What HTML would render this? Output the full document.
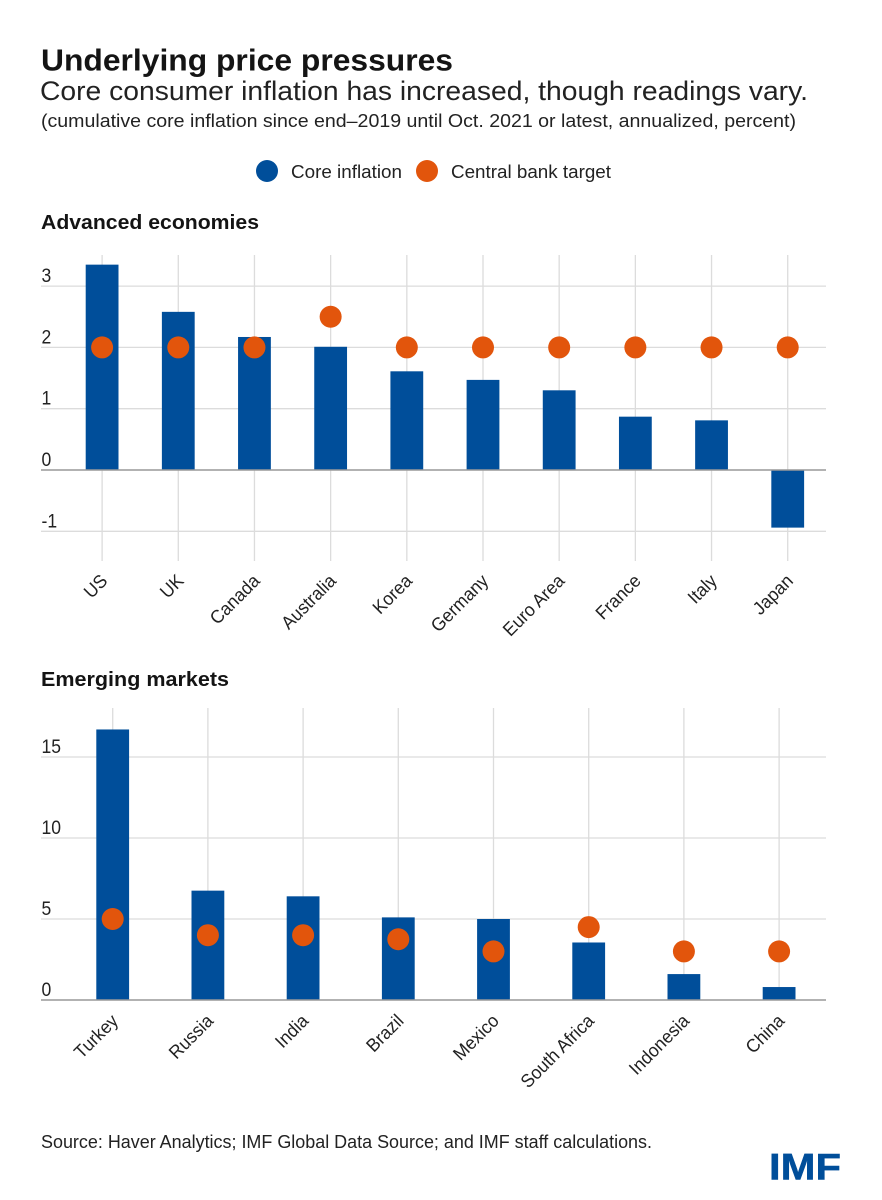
<!DOCTYPE html>
<html>
<head>
<meta charset="utf-8">
<style>
html,body{margin:0;padding:0;background:#fff;}
body{width:882px;height:1200px;overflow:hidden;position:relative;}
svg{position:absolute;left:0;top:0;font-family:"Liberation Sans",sans-serif;}
</style>
</head>
<body>
<svg id="chart" width="882" height="1200" viewBox="0 0 882 1200">
<text x="41" y="70.5" font-size="31" font-weight="700" fill="#141414" textLength="412" lengthAdjust="spacingAndGlyphs">Underlying price pressures</text>
<text x="40" y="100" font-size="26.5" fill="#222" textLength="768" lengthAdjust="spacingAndGlyphs">Core consumer inflation has increased, though readings vary.</text>
<text x="41" y="127" font-size="18.5" fill="#222" textLength="755" lengthAdjust="spacingAndGlyphs">(cumulative core inflation since end–2019 until Oct. 2021 or latest, annualized, percent)</text>
<circle cx="267" cy="171" r="11" fill="#004E9A"/>
<text x="291" y="178" font-size="18.5" fill="#222" textLength="111" lengthAdjust="spacingAndGlyphs">Core inflation</text>
<circle cx="427" cy="171" r="11" fill="#E2550C"/>
<text x="451" y="178" font-size="18.5" fill="#222" textLength="160" lengthAdjust="spacingAndGlyphs">Central bank target</text>
<text x="41" y="229" font-size="20.5" font-weight="700" fill="#141414" textLength="218" lengthAdjust="spacingAndGlyphs">Advanced economies</text>
<text x="41" y="686" font-size="20.5" font-weight="700" fill="#141414" textLength="188" lengthAdjust="spacingAndGlyphs">Emerging markets</text>
<g id="panel-advanced"></g>
<g id="panel-emerging"></g>
<text x="41" y="1148" font-size="18" fill="#222" textLength="611" lengthAdjust="spacingAndGlyphs">Source: Haver Analytics; IMF Global Data Source; and IMF staff calculations.</text>
<text x="769" y="1179.5" font-size="37.5" font-weight="700" fill="#004E9A" stroke="#004E9A" stroke-width="0.5" textLength="72" lengthAdjust="spacingAndGlyphs">IMF</text>
</svg>
<script>
var advCategories = ["US","UK","Canada","Australia","Korea","Germany","Euro Area","France","Italy","Japan"];
var advCore = [3.35,2.58,2.17,2.01,1.61,1.47,1.3,0.87,0.81,-0.94];
var advTarget = [2,2,2,2.5,2,2,2,2,2,2];
var advTicks = [-1,0,1,2,3];
var advTickLabels = ["-1","0","1","2","3"];
var emCategories = ["Turkey","Russia","India","Brazil","Mexico","South Africa","Indonesia","China"];
var emCore = [16.7,6.75,6.4,5.1,5.0,3.55,1.6,0.8];
var emTarget = [5,4,4,3.75,3,4.5,3,3];
var emTicks = [0,5,10,15];
var emTickLabels = ["0","5","10","15"];

var NS = "http://www.w3.org/2000/svg";
function mk(parent, tag, attrs){
  var el = document.createElementNS(NS, tag);
  for (var k in attrs) el.setAttribute(k, attrs[k]);
  parent.appendChild(el);
  return el;
}
function squeeze(t, ratio){
  t.setAttribute('textLength', t.getComputedTextLength() * ratio);
  t.setAttribute('lengthAdjust', 'spacingAndGlyphs');
}
function drawPanel(g, cfg){
  function y(v){ return cfg.y0 - v * cfg.unit; }
  function x(i){ return cfg.x0 + i * cfg.step; }
  cfg.ticks.forEach(function(t, i){
    if (t !== 0) {
      var gl = mk(g, "line", {x1:41, x2:826, y1:y(t), y2:y(t), stroke:"#dcdcdc", "stroke-width":1.3});
      
      
    }
    var lb = mk(g, "text", {x:41.5, y:y(t) - 4, "font-size":19.5, fill:"#222"});
    lb.textContent = cfg.tickLabels[i];
    
    
    squeeze(lb, 0.9);
  });
  cfg.cats.forEach(function(c, i){
    var v = mk(g, "line", {x1:x(i), x2:x(i), y1:cfg.top, y2:cfg.bottom, stroke:"#dcdcdc", "stroke-width":1.3});
    
    
  });
  cfg.core.forEach(function(val, i){
    var top = Math.min(y(val), y(0));
    var b = mk(g, "rect", {x:x(i) - 16.4, y:top, width:32.8, height:Math.abs(y(val) - y(0)), fill:"#004E9A"});
    
    
  });
  var axis = mk(g, "line", {x1:41, x2:826, y1:y(0), y2:y(0), stroke:"#999", "stroke-width":1.5});
  
  
  cfg.target.forEach(function(val, i){
    var d = mk(g, "circle", {cx:x(i), cy:y(val), r:11, fill:"#E2550C"});
    
    
  });
  cfg.cats.forEach(function(c, i){
    var px = x(i) + 6.5, py = cfg.labelY;
    var t = mk(g, "text", {x:px, y:py, "font-size":18.5, fill:"#222", "text-anchor":"end", transform:"rotate(-45 " + px + " " + py + ")"});
    t.textContent = c;
    
    
    squeeze(t, 0.95);
  });
}
drawPanel(document.getElementById("panel-advanced"), {
  cats:advCategories, core:advCore, target:advTarget, ticks:advTicks, tickLabels:advTickLabels,
  x0:102.1, step:76.18, y0:470, unit:61.3, top:255, bottom:561, labelY:582
});
drawPanel(document.getElementById("panel-emerging"), {
  cats:emCategories, core:emCore, target:emTarget, ticks:emTicks, tickLabels:emTickLabels,
  x0:112.7, step:95.2, y0:1000, unit:16.2, top:708, bottom:1000, labelY:1022
});
</script>
</body>
</html>
